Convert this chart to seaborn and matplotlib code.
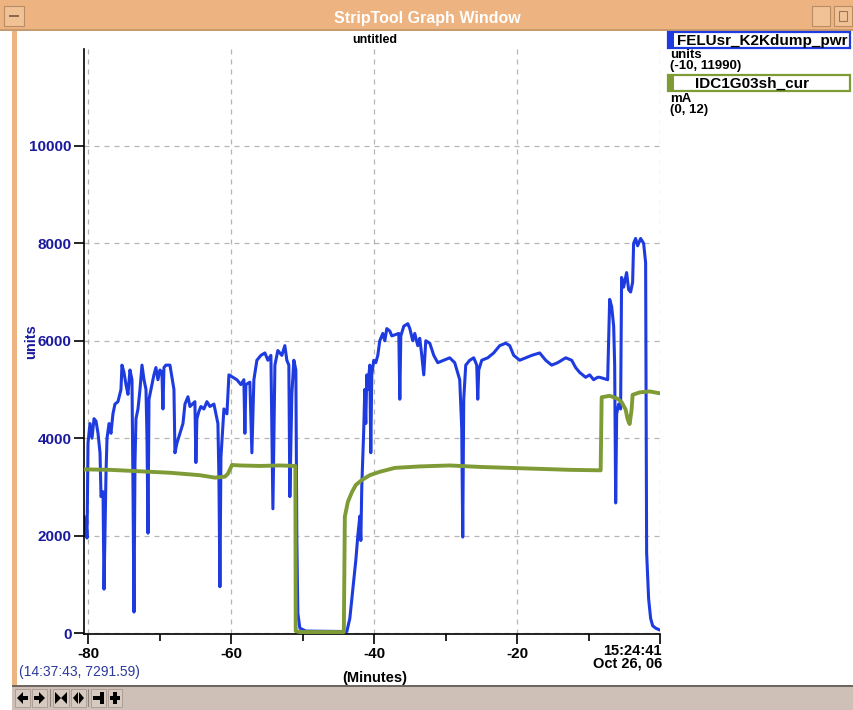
import matplotlib

matplotlib.use("Agg")
import matplotlib.pyplot as plt
import numpy as np
import pandas as pd
import seaborn as sns
from matplotlib.patches import Polygon, Rectangle
from matplotlib.ticker import FixedLocator

W, H = 854, 710

# FELUsr_K2Kdump_pwr (units) vs minutes before 15:24:41
pwr_minutes = [
    -80.56, -80.42, -80.28, -80.14, -80.00, -79.72, -79.44, -79.16, -78.88, -78.60,
    -78.32, -78.18, -77.90, -77.76, -77.48, -77.34, -77.06, -76.79, -76.51, -76.23,
    -75.81, -75.39, -75.25, -74.97, -74.69, -74.41, -74.13, -73.85, -73.71, -73.57,
    -73.43, -73.29, -73.01, -72.73, -72.45, -72.17, -71.89, -71.75, -71.61, -71.47,
    -71.06, -70.78, -70.50, -70.22, -69.94, -69.66, -69.52, -69.38, -69.10, -68.54,
    -67.98, -67.84, -67.56, -67.14, -66.72, -66.44, -66.02, -65.74, -65.05, -64.91,
    -64.77, -64.49, -64.21, -63.79, -63.37, -62.95, -62.39, -61.83, -61.69, -61.55,
    -61.41, -60.99, -60.57, -60.29, -59.73, -59.18, -58.62, -58.20, -58.06, -57.92,
    -57.36, -57.08, -56.80, -56.38, -55.82, -55.26, -54.84, -54.42, -54.14, -53.86,
    -53.45, -52.89, -52.47, -52.19, -51.91, -51.77, -51.49, -51.21, -50.93, -50.79,
    -50.65, -50.37, -49.53, -43.80, -43.38, -42.96, -42.54, -42.26, -41.98, -41.84,
    -41.71, -41.57, -41.43, -41.29, -41.15, -41.01, -40.87, -40.59, -40.45, -40.31,
    -40.03, -39.75, -39.47, -39.19, -38.77, -38.49, -38.21, -37.79, -37.51, -36.53,
    -36.39, -36.25, -35.83, -35.27, -34.99, -34.58, -34.30, -33.88, -33.60, -33.32,
    -33.04, -32.76, -32.20, -31.64, -31.08, -30.25, -29.41, -28.71, -28.01, -27.73,
    -27.59, -27.45, -27.17, -26.61, -26.05, -25.63, -25.49, -25.35, -24.93, -24.09,
    -23.26, -22.42, -21.58, -21.02, -20.46, -19.62, -18.78, -17.94, -16.83, -15.99,
    -15.15, -14.31, -13.19, -12.35, -11.80, -11.24, -10.40, -9.84, -9.28, -8.72,
    -8.44, -7.32, -7.04, -6.76, -6.48, -6.34, -6.20, -6.06, -5.78, -5.51,
    -5.37, -5.09, -4.67, -4.39, -4.11, -3.83, -3.69, -3.41, -3.13, -2.71,
    -2.29, -2.01, -1.87, -1.59, -1.31, -1.03, -0.61, 0.00,
]
pwr_units = [
    2400, 2000, 2300, 1950, 3900, 4300, 4000, 4400, 4350, 4100,
    3700, 2800, 2900, 900, 3300, 4000, 4300, 4100, 4500, 4700,
    4750, 5000, 5500, 5350, 5100, 4900, 5400, 5200, 3000, 430,
    3500, 4400, 4600, 5000, 5500, 5200, 5000, 4000, 2050, 4800,
    5100, 5300, 5450, 5200, 5400, 5350, 4600, 5450, 5500, 5500,
    5000, 3700, 3900, 4100, 4300, 4700, 4850, 4650, 4750, 3500,
    4400, 4550, 4650, 4600, 4750, 4650, 4700, 4300, 3200, 950,
    3600, 4600, 4500, 5300, 5250, 5200, 5100, 5200, 4100, 5100,
    5150, 3700, 5200, 5600, 5700, 5750, 5600, 5700, 2550, 5500,
    5800, 5700, 5900, 5600, 5500, 2800, 4900, 5600, 5400, 1900,
    400, 100, 40, 30, 300, 900, 1500, 2000, 2400, 1900,
    3000, 3600, 4200, 5000, 4300, 5300, 5000, 5500, 3700, 5300,
    5600, 5550, 5700, 6000, 6150, 6000, 6250, 6200, 6100, 6150,
    4800, 6100, 6300, 6350, 6250, 6000, 6150, 5900, 6050, 5700,
    5300, 6000, 5950, 5700, 5550, 5600, 5650, 5550, 5200, 4200,
    1970, 4800, 5500, 5600, 5650, 5500, 4800, 5400, 5600, 5650,
    5750, 5900, 5950, 5900, 5700, 5600, 5650, 5700, 5750, 5600,
    5500, 5550, 5650, 5600, 5450, 5350, 5250, 5300, 5200, 5250,
    5250, 5200, 6850, 6700, 6300, 5500, 2670, 4500, 4700, 4600,
    7300, 7100, 7400, 7050, 7000, 7200, 8000, 8100, 7950, 8100,
    8000, 7600, 1650, 700, 300, 150, 100, 60,
]

# IDC1G03sh_cur (mA)
cur_minutes = [
    -80.56, -76.93, -72.73, -68.54, -64.35, -62.25, -60.85, -60.43, -59.87, -58.76,
    -55.96, -53.17, -51.00, -50.95, -50.37, -44.22, -44.08, -43.66, -43.10, -42.54,
    -41.71, -40.59, -39.19, -37.09, -33.60, -29.41, -25.21, -21.02, -16.83, -12.63,
    -8.30, -8.16, -7.04, -5.92, -5.37, -4.81, -4.53, -4.25, -3.97, -3.83,
    -2.85, -1.45, 0.00,
]
cur_ma = [
    3.37, 3.36, 3.33, 3.30, 3.25, 3.20, 3.22, 3.28, 3.46, 3.45,
    3.44, 3.45, 3.44, 0.05, 0.03, 0.03, 2.40, 2.70, 2.90, 3.05,
    3.15, 3.25, 3.32, 3.40, 3.43, 3.45, 3.42, 3.40, 3.38, 3.36,
    3.35, 4.85, 4.88, 4.82, 4.75, 4.60, 4.40, 4.30, 4.60, 4.90,
    4.95, 4.97, 4.93,
]

x_major = [-80, -60, -40, -20, 0]
x_labels = ["-80", "-60", "-40", "-20", ""]
x_minor = [-70, -50, -30, -10]
y_major = [0, 2000, 4000, 6000, 8000, 10000]

BLUE = "#1E3BE0"
GREEN = "#7E9B36"
LABEL_BLUE = "#1A1A9E"
FRAME = "#EDB381"
TOOLBAR = "#CEC0B6"
FONT = ["Liberation Sans", "DejaVu Sans"]


def fx(x):
    return x / W


def fy(y):
    return 1 - y / H


def box(fig, x0, y0, x1, y1, **kw):
    fig.patches.append(Rectangle((fx(x0), fy(y1)), fx(x1) - fx(x0), fy(y0) - fy(y1),
                                 transform=fig.transFigure, **kw))


def poly(fig, pts, **kw):
    fig.patches.append(Polygon([(fx(x), fy(y)) for x, y in pts], closed=True,
                               transform=fig.transFigure, **kw))


def label(fig, x, y, s, **kw):
    kw.setdefault("family", FONT)
    fig.text(fx(x), fy(y), s, **kw)


sns.set_theme(style="white")
plt.rcParams["font.family"] = FONT
plt.rcParams["axes.unicode_minus"] = False

fig = plt.figure(figsize=(W / 100, H / 100), dpi=100)
fig.patch.set_facecolor("white")

# window chrome
box(fig, 0, 0, W, 30, facecolor=FRAME, edgecolor="none")
box(fig, 0, 29, W, 31, facecolor="#C99A6E", edgecolor="none")
box(fig, 4, 6, 24, 26, facecolor="#F2C297", edgecolor="#B88D64", linewidth=0.8)
box(fig, 9, 15, 19, 17, facecolor="#8A6A4E", edgecolor="none")
box(fig, 812, 6, 830, 26, facecolor="#F2C297", edgecolor="#B88D64", linewidth=0.8)
box(fig, 834, 6, 852, 26, facecolor="#F2C297", edgecolor="#B88D64", linewidth=0.8)
box(fig, 839, 11, 847, 21, facecolor="none", edgecolor="#9B7755", linewidth=0.8)
label(fig, 427, 18, "StripTool Graph Window", color="white", fontsize=11.5,
      fontweight="bold", ha="center", va="center")
box(fig, 12, 31, 17, 686, facecolor=FRAME, edgecolor="none")
box(fig, 12, 686, W, H, facecolor=TOOLBAR, edgecolor="none")
box(fig, 12, 685, W, 687, facecolor="#6E6660", edgecolor="none")

# toolbar buttons and their icons
for x0, x1 in [(15, 30), (32, 47), (53, 69), (71, 86), (91, 106), (108, 122)]:
    box(fig, x0, 689, x1, 707, facecolor="#D6C9C0", edgecolor="#A89A90", linewidth=0.6)
for xs in (50, 88):
    box(fig, xs, 689, xs + 1, 707, facecolor="#8E847D", edgecolor="none")
ink = dict(facecolor="black", edgecolor="none")
poly(fig, [(17, 698), (23, 692), (23, 704)], **ink)
box(fig, 22, 696, 28, 700, **ink)
poly(fig, [(45, 698), (39, 692), (39, 704)], **ink)
box(fig, 34, 696, 40, 700, **ink)
poly(fig, [(55, 692), (61, 698), (55, 704)], **ink)
poly(fig, [(67, 692), (61, 698), (67, 704)], **ink)
poly(fig, [(78, 692), (73, 698), (78, 704)], **ink)
poly(fig, [(79, 692), (84, 698), (79, 704)], **ink)
box(fig, 93, 696, 101, 700, **ink)
box(fig, 100, 692, 104, 704, **ink)
box(fig, 110, 696, 120, 700, **ink)
box(fig, 113, 692, 117, 704, **ink)

# plot area
ax = fig.add_axes([fx(84), fy(633.5), fx(660) - fx(84), fy(49) - fy(633.5)])
ax.set_facecolor("white")

pwr = pd.DataFrame({"minutes": pwr_minutes, "units": pwr_units})
cur = pd.DataFrame({"minutes": cur_minutes, "mA": cur_ma})

sns.lineplot(data=pwr, x="minutes", y="units", ax=ax, color=BLUE, linewidth=2.2,
             estimator=None, sort=False)

ax.set_xlim(-80.56, 0)
ax.set_ylim(-10, 11990)
ax.xaxis.set_major_locator(FixedLocator(x_major))
ax.xaxis.set_minor_locator(FixedLocator(x_minor))
ax.set_xticklabels(x_labels)
ax.yaxis.set_major_locator(FixedLocator(y_major))
ax.grid(True, which="major", color="#B5B5B5", linestyle=(0, (4, 4)), linewidth=0.9)
for side in ("top", "right"):
    ax.spines[side].set_visible(False)
for side in ("left", "bottom"):
    ax.spines[side].set_color("black")
    ax.spines[side].set_linewidth(1.2)
ax.tick_params(axis="y", which="major", direction="out", length=7, width=1.2,
               color="black", pad=2, labelsize=11, labelcolor=LABEL_BLUE, left=True)
ax.tick_params(axis="x", which="major", direction="out", length=7, width=1.2,
               color="black", pad=3, labelsize=11, labelcolor="black", bottom=True)
ax.tick_params(axis="x", which="minor", direction="out", length=5, width=1.2,
               color="black", bottom=True)
for t in ax.get_xticklabels() + ax.get_yticklabels():
    t.set_fontweight("bold")
ax.set_xlabel("")
ax.set_ylabel("")

ax2 = ax.twinx()
sns.lineplot(data=cur, x="minutes", y="mA", ax=ax2, color=GREEN, linewidth=2.8,
             estimator=None, sort=False)
ax2.set_ylim(0, 12)
ax2.set_xlim(-80.56, 0)
ax2.set_yticks([])
ax2.set_ylabel("")
for side in ax2.spines:
    ax2.spines[side].set_visible(False)

# texts around the plot
label(fig, 375, 40, "untitled", color="black", fontsize=9, fontweight="bold",
      ha="center", va="center")
label(fig, 31, 342, "units", color=LABEL_BLUE, fontsize=10.5, fontweight="bold",
      rotation=90, ha="center", va="center")
label(fig, 375, 678, "(Minutes)", color="black", fontsize=10.5, fontweight="bold",
      ha="center", va="center")
label(fig, 662, 651, "15:24:41", color="black", fontsize=10.5, fontweight="bold",
      ha="right", va="center")
label(fig, 662, 664, "Oct 26, 06", color="black", fontsize=10.5, fontweight="bold",
      ha="right", va="center")
label(fig, 19, 672, "(14:37:43, 7291.59)", color="#2B3A9A", fontsize=10,
      ha="left", va="center")

# legend panel
box(fig, 668, 32, 850, 48, facecolor="white", edgecolor=BLUE, linewidth=1.6)
box(fig, 668, 32, 674, 48, facecolor=BLUE, edgecolor="none")
label(fig, 677, 40.5, "FELUsr_K2Kdump_pwr", color="black", fontsize=11,
      fontweight="bold", ha="left", va="center")
label(fig, 670, 55.5, "units", color="black", fontsize=9.5, fontweight="bold",
      ha="left", va="center")
label(fig, 670, 66.5, "(-10, 11990)", color="black", fontsize=9.5, fontweight="bold",
      ha="left", va="center")
box(fig, 668, 75, 850, 91, facecolor="white", edgecolor=GREEN, linewidth=1.6)
box(fig, 668, 75, 674, 91, facecolor=GREEN, edgecolor="none")
label(fig, 752, 83.5, "IDC1G03sh_cur", color="black", fontsize=11,
      fontweight="bold", ha="center", va="center")
label(fig, 670, 99.5, "mA", color="black", fontsize=9.5, fontweight="bold",
      ha="left", va="center")
label(fig, 670, 110.5, "(0, 12)", color="black", fontsize=9.5, fontweight="bold",
      ha="left", va="center")

fig.savefig("out.png", dpi=100, facecolor=fig.get_facecolor())
